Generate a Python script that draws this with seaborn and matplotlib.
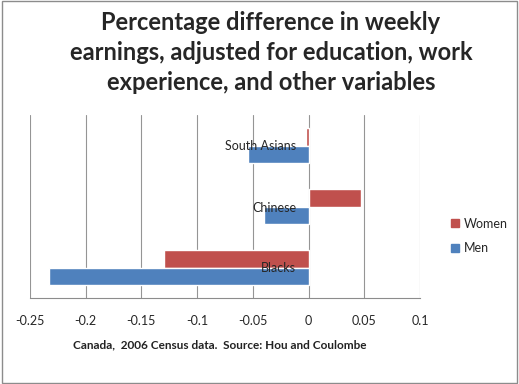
import pandas as pd
import seaborn as sns
import matplotlib.pyplot as plt
from matplotlib.patches import Rectangle, Patch
from matplotlib.ticker import FuncFormatter

groups = ["South Asians", "Chinese", "Blacks"]
women = [-0.002, 0.047, -0.130]
men = [-0.054, -0.040, -0.233]
xticks = [-0.25, -0.2, -0.15, -0.1, -0.05, 0, 0.05, 0.1]

sns.set_style("white")
plt.rcParams["font.family"] = ["Lato", "DejaVu Sans"]
plt.rcParams["axes.unicode_minus"] = False

df = pd.DataFrame({
    "group": groups * 2,
    "value": women + men,
    "sex": ["Women"] * 3 + ["Men"] * 3,
})

red = "#C0504D"
blue = "#4F81BD"

fig = plt.figure(figsize=(5.19, 3.84), dpi=100)
ax = fig.add_axes([30 / 519, 1 - 298 / 384, 390 / 519, 183 / 384])

sns.barplot(data=df, x="value", y="group", hue="sex", order=groups,
            hue_order=["Women", "Men"], palette={"Women": red, "Men": blue},
            orient="h", width=0.56, saturation=1, legend=False, ax=ax)

ax.set_xlim(-0.25, 0.1)
ax.set_xticks(xticks)
ax.xaxis.set_major_formatter(FuncFormatter(lambda v, p: f"{v:g}"))
ax.grid(axis="x", color="#959595", lw=0.8)
ax.set_axisbelow(True)
# category labels sit on top of the bars, like Excel
ax.yaxis.set_zorder(5)
for p in ax.patches:
    p.set_zorder(1)
ax.set_xlabel("")
ax.set_ylabel("")

for s in ["top", "right"]:
    ax.spines[s].set_visible(False)
ax.spines["left"].set_position(("data", 0))
ax.spines["left"].set_color("none")
ax.spines["bottom"].set_color("#8c8c8c")
ax.tick_params(axis="x", length=4, width=0.8, color="#8c8c8c", direction="out",
               pad=8, labelsize=9)
ax.tick_params(axis="y", length=0, pad=9, labelsize=9)
ax.set_ylim(2.5, -0.5)

fig.text(0.522, 0.972, "Percentage difference in weekly\nearnings, adjusted for education, work\nexperience, and other variables",
         ha="center", va="top", fontsize=17, fontweight="bold", linespacing=1.38)
fig.text(73 / 519, 1 - 345 / 384, "Canada,  2006 Census data.  Source: Hou and Coulombe",
         ha="left", va="center", fontsize=8.5, fontweight="bold", color="#222222")

handles = [Patch(color=red, label="Women"), Patch(color=blue, label="Men")]
fig.legend(handles=handles, loc="center left", bbox_to_anchor=(440 / 519, 1 - 236 / 384),
           frameon=False, fontsize=9, handlelength=0.6, handleheight=0.6,
           handletextpad=0.4, labelspacing=1.0)

fig.patches.append(Rectangle((0.003, 0.003), 0.994, 0.994, transform=fig.transFigure,
                             fill=False, edgecolor="#8c8c8c", lw=1))

fig.savefig("out.png", dpi=100)
